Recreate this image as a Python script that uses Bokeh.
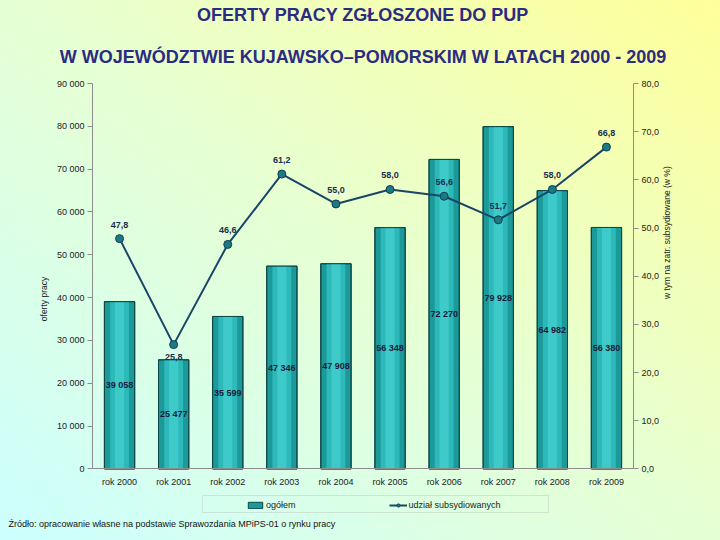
import math
from bokeh.plotting import figure
from bokeh.models import (Range1d, LinearAxis, CustomJSTickFormatter, Legend, Title, BoxAnnotation,
                          LegendItem, ColumnDataSource, InlineStyleSheet, SingleIntervalTicker)
from bokeh.core.properties import value
from bokeh.embed import file_html
from bokeh.resources import INLINE

years = ["rok 2000", "rok 2001", "rok 2002", "rok 2003", "rok 2004",
         "rok 2005", "rok 2006", "rok 2007", "rok 2008", "rok 2009"]
offers = [39058, 25477, 35599, 47346, 47908, 56348, 72270, 79928, 64982, 56380]
subsid_pct = [47.8, 25.8, 46.6, 61.2, 55.0, 58.0, 56.6, 51.7, 58.0, 66.8]

title1 = "OFERTY PRACY ZGŁOSZONE DO PUP"
title2 = "W WOJEWÓDZTWIE KUJAWSKO–POMORSKIM W LATACH 2000 - 2009"
source_note = "Źródło: opracowanie własne na podstawie Sprawozdania MPiPS-01 o rynku pracy"
left_title = "oferty pracy"
right_title = "w tym na zatr. subsydiowane (w %)"
series_names = ["ogółem", "udział subsydiowanych"]

FONT = "Liberation Sans"
BAR_FILL, BAR_LINE = "#1c9a9a", "#0c4646"
LINE_COL, PT_FILL, PT_LINE = "#1b4566", "#1d7a82", "#103e55"

Y_MAX, P_MAX = 90000, 80
# plot frame geometry (pixels): top 79, zero line at 468, frame bottom 514 (room for legend)
TOP, ZERO, BOTTOM = 79, 468, 514
below_frac = (BOTTOM - ZERO) / (ZERO - TOP)

src = ColumnDataSource(dict(
    x=years,
    offers=offers,
    half=[v / 2 for v in offers],
    offers_lbl=[f"{v:,}".replace(",", " ") for v in offers],
    pct=subsid_pct,
    pct_lbl=[f"{v:.1f}".replace(".", ",") for v in subsid_pct],
    pct_off=[12 if v == min(subsid_pct) else -14 for v in subsid_pct],
))

css = InlineStyleSheet(css=":host { background: linear-gradient(to top right, #ccffff 0%, #e6ffd4 50%, #ffff99 100%); }")

p = figure(x_range=years, y_range=Range1d(-Y_MAX * below_frac, Y_MAX), width=720, height=540,
           output_backend="svg", toolbar_location=None,
           min_border_left=92, min_border_right=87, min_border_top=TOP, min_border_bottom=540 - BOTTOM)
p.stylesheets = [css]
p.border_fill_alpha = 0
p.background_fill_alpha = 0
p.outline_line_color = None
p.xgrid.grid_line_color = None
p.ygrid.grid_line_color = None
p.extra_y_ranges = {"pct": Range1d(-P_MAX * below_frac, P_MAX)}

# bars with cylinder-like shading
w = 0.56
r_bar = p.vbar(x="x", top="offers", width=w, source=src, fill_color=BAR_FILL,
               line_color=BAR_LINE, line_width=1)
p.vbar(x="x", top="offers", width=w * 0.62, source=src, fill_color="#2db9b9", line_color=None)
p.vbar(x="x", top="offers", width=w * 0.3, source=src, fill_color="#3fcaca", line_color=None)
p.vbar(x="x", top="offers", width=w, source=src, fill_color=None, line_color=BAR_LINE, line_width=1)

p.text(x="x", y="half", text="offers_lbl", source=src, text_align="center",
       text_baseline="middle", text_font=value(FONT), text_font_size="9px",
       text_font_style="bold", text_color="#1a1a3a")

r_line = p.line(x="x", y="pct", source=src, y_range_name="pct", line_color=LINE_COL, line_width=2)
r_pts = p.scatter(x="x", y="pct", source=src, y_range_name="pct", size=8,
                  fill_color=PT_FILL, line_color=PT_LINE, line_width=1)
p.text(x="x", y="pct", text="pct_lbl", y_offset="pct_off", source=src, y_range_name="pct",
       text_align="center", text_baseline="middle", text_font=value(FONT),
       text_font_size="9px", text_font_style="bold", text_color="#1a2f50")

# axes
ax = p.yaxis[0]
ax.formatter = CustomJSTickFormatter(code="return tick.toFixed(0).replace(/\\B(?=(\\d{3})+(?!\\d))/g, ' ');")
ax.ticker = SingleIntervalTicker(interval=10000)
ax.bounds = (0, Y_MAX)
ax.axis_label = left_title

ax_r = LinearAxis(y_range_name="pct", ticker=SingleIntervalTicker(interval=10),
                  formatter=CustomJSTickFormatter(code="return tick.toFixed(1).replace('.', ',');"),
                  axis_label=right_title, bounds=(0, P_MAX))
ax_r.axis_label_orientation = math.pi / 2
p.add_layout(ax_r, "right")

xax = p.xaxis[0]
xax.fixed_location = 0

for a in [ax, ax_r, xax]:
    a.axis_line_color = "#8c8c8c"
    a.major_tick_line_color = "#8c8c8c"
    a.minor_tick_line_color = None
    a.major_tick_in = 0
    a.major_tick_out = 5
    a.major_label_standoff = 3
    a.major_label_text_font = FONT
    a.major_label_text_font_size = "9px"
    a.major_label_text_color = "#222222"
    a.axis_label_text_font = FONT
    a.axis_label_text_font_size = "8.5px"
    a.axis_label_text_font_style = "normal"
    a.axis_label_text_color = "#222222"
xax.major_tick_line_color = None
xax.major_tick_out = 0
xax.major_label_standoff = 8

# titles
p.add_layout(Title(text=title2, align="center", offset=8, standoff=34, text_font=FONT,
                   text_font_size="18px", text_font_style="bold", text_color="#2b2b82"), "above")
p.add_layout(Title(text=title1, align="center", offset=8, standoff=5, text_font=FONT,
                   text_font_size="18px", text_font_style="bold", text_color="#2b2b82"), "above")

# legend box + legend
p.add_layout(BoxAnnotation(left=110, right=456, bottom=2, top=19, left_units="screen",
                           right_units="screen", bottom_units="screen", top_units="screen",
                           fill_color=None, line_color="#a8a8a8", line_width=1))
legend = Legend(items=[LegendItem(label=series_names[0], renderers=[r_bar]),
                       LegendItem(label=series_names[1], renderers=[r_line, r_pts])],
                orientation="horizontal", location=(154, 4), padding=2, margin=0,
                spacing=93, glyph_width=18, glyph_height=8, label_standoff=2,
                label_text_font=FONT, label_text_font_size="9px", label_text_color="#222222",
                border_line_color=None, background_fill_alpha=0, label_height=10)
p.add_layout(legend, "center")

# footer
p.add_layout(Title(text=source_note, align="left", offset=-84, standoff=4,
                   text_font=FONT, text_font_size="9px", text_font_style="normal",
                   text_color="#111111"), "below")

open("out.html", "w").write(file_html(p, INLINE))
